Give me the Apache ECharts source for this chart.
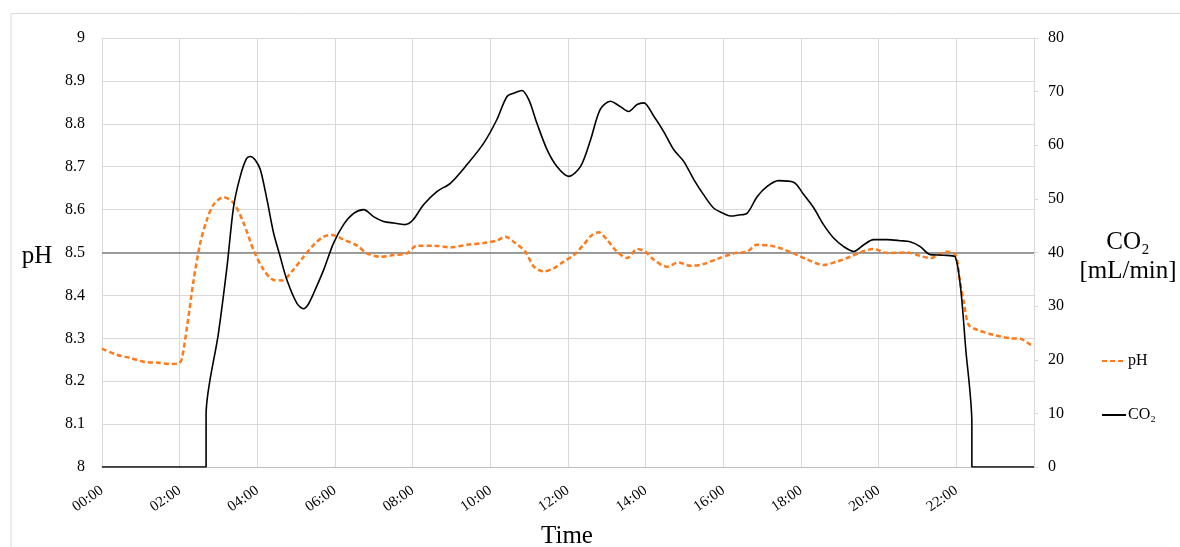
<!DOCTYPE html>
<html>
<head>
<meta charset="utf-8">
<script src="https://cdn.jsdelivr.net/npm/echarts@6/dist/echarts.min.js"></script>
<style>
html,body{margin:0;padding:0;background:#fff;}
#chart{width:1180px;height:547px;}
</style>
</head>
<body>
<div id="chart"></div>
<script>
// Time in hours since 00:00
const phTime = [0,0.37,0.73,1.1,1.45,1.76,1.97,2.05,2.19,2.36,2.53,2.70,2.87,3.13,3.39,3.65,3.90,4.16,4.42,4.64,4.89,5.19,5.45,5.71,5.92,6.22,6.57,6.82,7.17,7.51,7.85,8.11,8.54,8.97,9.40,9.83,10.17,10.39,10.64,10.90,11.12,11.37,11.63,11.89,12.15,12.40,12.62,12.79,13.0,13.26,13.52,13.78,13.99,14.21,14.55,14.85,15.15,15.49,15.84,16.27,16.61,16.87,17.21,17.47,17.81,18.15,18.58,18.93,19.27,19.61,19.87,20.22,20.73,21.07,21.33,21.76,21.98,22.08,22.2,22.32,22.53,22.96,23.39,23.65,23.86,24];
const phValue = [8.276,8.262,8.254,8.245,8.243,8.240,8.242,8.250,8.327,8.436,8.522,8.576,8.611,8.629,8.615,8.568,8.506,8.460,8.436,8.435,8.456,8.490,8.518,8.537,8.541,8.530,8.516,8.498,8.490,8.494,8.498,8.516,8.516,8.512,8.518,8.522,8.528,8.537,8.522,8.502,8.467,8.456,8.463,8.479,8.494,8.518,8.541,8.547,8.530,8.502,8.487,8.508,8.502,8.483,8.467,8.477,8.469,8.473,8.485,8.498,8.502,8.518,8.516,8.510,8.498,8.484,8.471,8.479,8.490,8.503,8.508,8.499,8.500,8.492,8.487,8.502,8.494,8.440,8.380,8.331,8.320,8.308,8.300,8.299,8.288,8.281];

const co2Time = [0,2.68,2.68,3.0,3.22,3.39,3.56,3.72,3.82,3.95,4.08,4.25,4.42,4.59,4.76,5.02,5.19,5.30,5.45,5.71,5.96,6.22,6.48,6.74,6.99,7.25,7.51,7.80,8.0,8.28,8.63,8.97,9.40,9.83,10.17,10.43,10.64,10.81,10.99,11.2,11.46,11.72,12.02,12.32,12.58,12.83,13.09,13.35,13.56,13.78,13.95,14.21,14.46,14.72,14.98,15.24,15.49,15.75,16.0,16.18,16.4,16.61,16.87,17.12,17.42,17.81,18.07,18.33,18.58,18.84,19.1,19.36,19.61,19.87,20.22,20.56,20.81,21.07,21.33,21.67,21.97,22.26,22.4,22.4,24];
const co2Value = [0,0,9.7,25,37.4,48.6,54.2,57.5,57.9,57.2,55.4,49.8,43.6,39.2,34.9,30.5,29.5,30.2,32.4,36.8,41.7,45.2,47.3,48.0,46.7,45.8,45.5,45.2,46.0,48.9,51.4,52.9,56.4,60.4,64.8,69.1,69.8,70.2,68.5,64.1,59.2,56.0,54.2,56.0,61.0,66.7,68.2,67.2,66.3,67.6,67.9,65.4,62.6,59.2,57.0,53.6,50.8,48.3,47.3,46.8,47.0,47.3,50.4,52.3,53.4,53.1,50.8,48.3,45.2,42.7,41.1,40.2,41.4,42.4,42.4,42.2,42.0,41.1,39.6,39.5,39.2,20.6,8.1,0,0];

const xTickHours = [0,2,4,6,8,10,12,14,16,18,20,22];
const phReference = 8.5;

const FONT = 'Liberation Serif';
const phData = phTime.map((t,i)=>[t,phValue[i]]);
const co2Data = co2Time.map((t,i)=>[t,co2Value[i]]);

const chart = echarts.init(document.getElementById('chart'), null, {renderer:'canvas'});
chart.setOption({
  animation:false,
  backgroundColor:'#fff',
  grid:{left:102,right:146,top:38,bottom:80,containLabel:false},
  graphic:[
    {type:'rect',shape:{x:11,y:13.5,width:1250,height:600},style:{fill:'none',stroke:'#D9D9D9',lineWidth:1},silent:true,z:-10},
    {type:'text',x:37,y:256,style:{text:'pH',font:'25px "'+FONT+'"',fill:'#000',textAlign:'center',textVerticalAlign:'middle'}},
    {type:'text',x:567,y:536,style:{text:'Time',font:'25px "'+FONT+'"',fill:'#000',textAlign:'center',textVerticalAlign:'middle'}},
    {type:'text',x:1128,y:242,style:{text:'CO₂',font:'25px "'+FONT+'"',fill:'#000',textAlign:'center',textVerticalAlign:'middle'}},
    {type:'text',x:1128,y:271,style:{text:'[mL/min]',font:'25px "'+FONT+'"',fill:'#000',textAlign:'center',textVerticalAlign:'middle'}}
  ],
  legend:{
    orient:'vertical',left:1096,top:348,itemWidth:24,itemHeight:14,itemGap:38,
    itemStyle:{opacity:0},
    textStyle:{fontFamily:FONT,fontSize:16,color:'#000',padding:[0,0,0,-3]},
    data:['pH','CO₂']
  },
  xAxis:{
    type:'value',min:0,max:24,interval:2,
    axisLine:{show:true,lineStyle:{color:'#BFBFBF',width:1}},
    axisTick:{show:false},
    splitLine:{show:true,lineStyle:{color:'#D9D9D9',width:1}},
    axisLabel:{
      rotate:35,margin:22,fontFamily:FONT,fontSize:15,color:'#000',
      formatter:function(v){
        if(xTickHours.indexOf(v)<0) return '';
        return (v<10?'0':'')+v+':00';
      }
    }
  },
  yAxis:[
    {
      type:'value',min:8,max:9,interval:0.1,position:'left',
      axisLine:{show:false},axisTick:{show:false},
      splitLine:{show:true,lineStyle:{color:'#D9D9D9',width:1}},
      axisLabel:{margin:17,fontFamily:FONT,fontSize:16,color:'#000',
        formatter:function(v){return String(Math.round(v*10)/10);}}
    },
    {
      type:'value',min:0,max:80,interval:10,position:'right',
      axisLine:{show:true,lineStyle:{color:'#D9D9D9',width:1}},
      axisTick:{show:true,length:4,inside:false,lineStyle:{color:'#D9D9D9'}},
      splitLine:{show:false},
      axisLabel:{margin:14,fontFamily:FONT,fontSize:16,color:'#000'}
    }
  ],
  series:[
    {
      name:'pH',type:'line',yAxisIndex:0,data:phData,showSymbol:false,symbol:'none',
      smooth:0.3,
      lineStyle:{color:'#FF7A1A',width:2.5,type:[5,3]},
      itemStyle:{color:'#FF7A1A'},
      z:3,
      markLine:{
        silent:true,symbol:'none',label:{show:false},
        lineStyle:{color:'#7F7F7F',type:'solid',width:1.6},
        data:[{yAxis:phReference}],z:2
      }
    },
    {
      name:'CO₂',type:'line',yAxisIndex:1,data:co2Data,showSymbol:false,symbol:'none',
      smooth:0.3,
      lineStyle:{color:'#000',width:1.6,type:'solid'},
      itemStyle:{color:'#000'},
      z:4
    }
  ]
});
</script>
</body>
</html>
